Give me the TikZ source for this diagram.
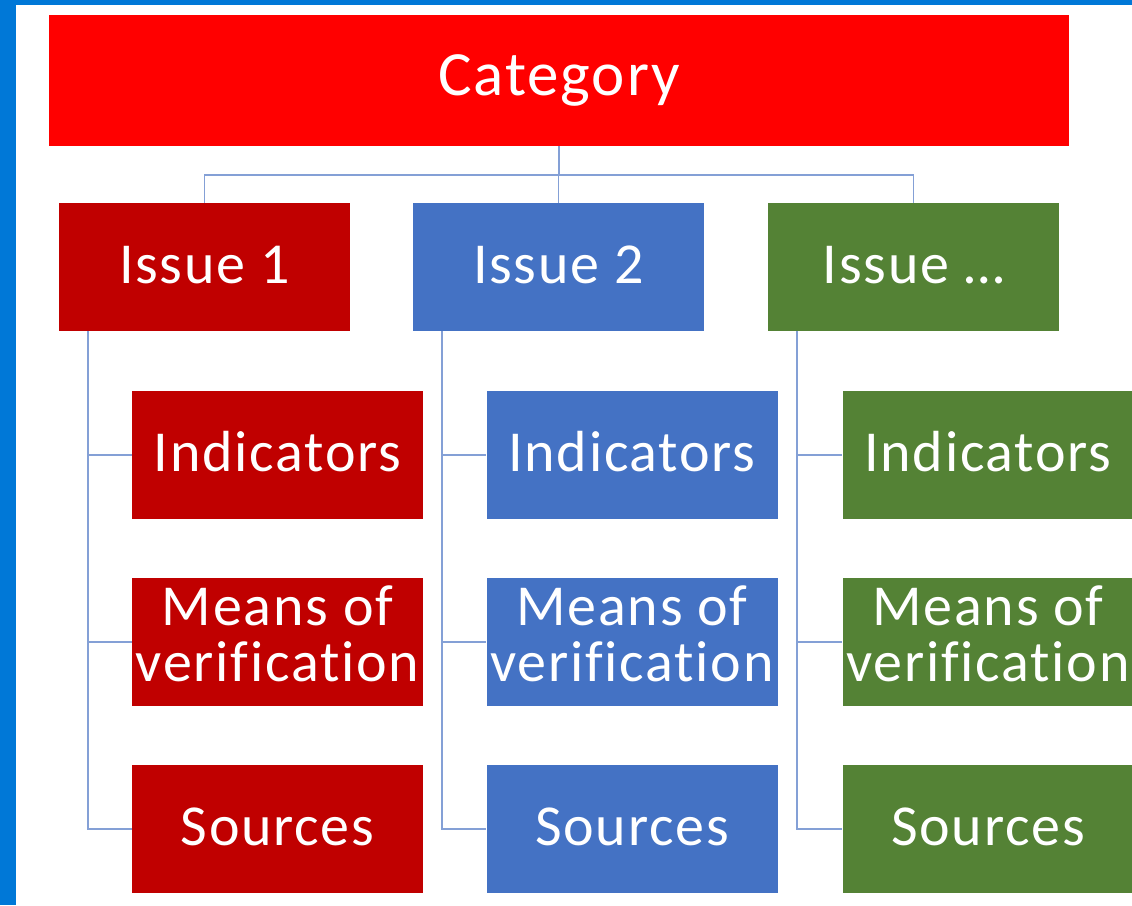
\documentclass[tikz,border=0pt]{standalone}
\usepackage{fontspec}
\setmainfont{Carlito}[Ligatures=NoCommon,LetterSpace=3]
\usetikzlibrary{calc}
\definecolor{catred}{RGB}{255,0,0}
\definecolor{darkred}{RGB}{192,0,0}
\definecolor{issueblue}{RGB}{68,114,196}
\definecolor{issuegreen}{RGB}{84,130,53}
\definecolor{linkblue}{RGB}{132,160,214}
\definecolor{frameblue}{RGB}{0,120,215}

\begin{document}
\begin{tikzpicture}[x=1pt,y=-1pt,
	box/.style={minimum width=291pt,minimum height=128pt,inner sep=0pt,text=white,
		font=\fontsize{58}{56}\selectfont,text height=37pt,text depth=5pt,align=center},
	twoline/.style={text height=93pt,text depth=14pt},
	link/.style={linkblue,line width=1.8pt}]
\useasboundingbox (0,0) rectangle (1132,905);
\fill[frameblue] (0,0) rectangle (16,905);
\fill[frameblue] (0,0) rectangle (1132,5);

\node[box,fill=catred,minimum width=1020pt,minimum height=131pt,
	font=\fontsize{63}{63}\selectfont,text height=40pt,text depth=10pt] (cat) at (559,80.5) {Category};

\foreach \col/\x/\k/\t in {darkred/204.5/1/Issue 1, issueblue/558.5/2/Issue 2, issuegreen/913.5/3/Issue …}
	\node[box,fill=\col] (i\k) at (\x,267) {\t};

\foreach \col/\x/\k in {darkred/277.5/1, issueblue/632/2, issuegreen/988/3} {
	\node[box,fill=\col] (ind\k) at (\x,455) {Indicators};
	\node[box,twoline,fill=\col] (mov\k) at (\x,642) {Means of\\verification};
	\node[box,fill=\col] (src\k) at (\x,829) {Sources};
}

\coordinate (bus) at (559,175);
\draw[link] (cat.south) -- (bus) -| (i1.north);
\draw[link] (bus) -| (i2.north);
\draw[link] (bus) -| (i3.north);

\foreach \k in {1,2,3} {
	\draw[link] ([xshift=29pt]i\k.south west) |- (src\k.west);
	\draw[link] ([xshift=29pt]i\k.south west) |- (ind\k.west);
	\draw[link] ([xshift=29pt]i\k.south west) |- (mov\k.west);
}
\end{tikzpicture}
\end{document}
